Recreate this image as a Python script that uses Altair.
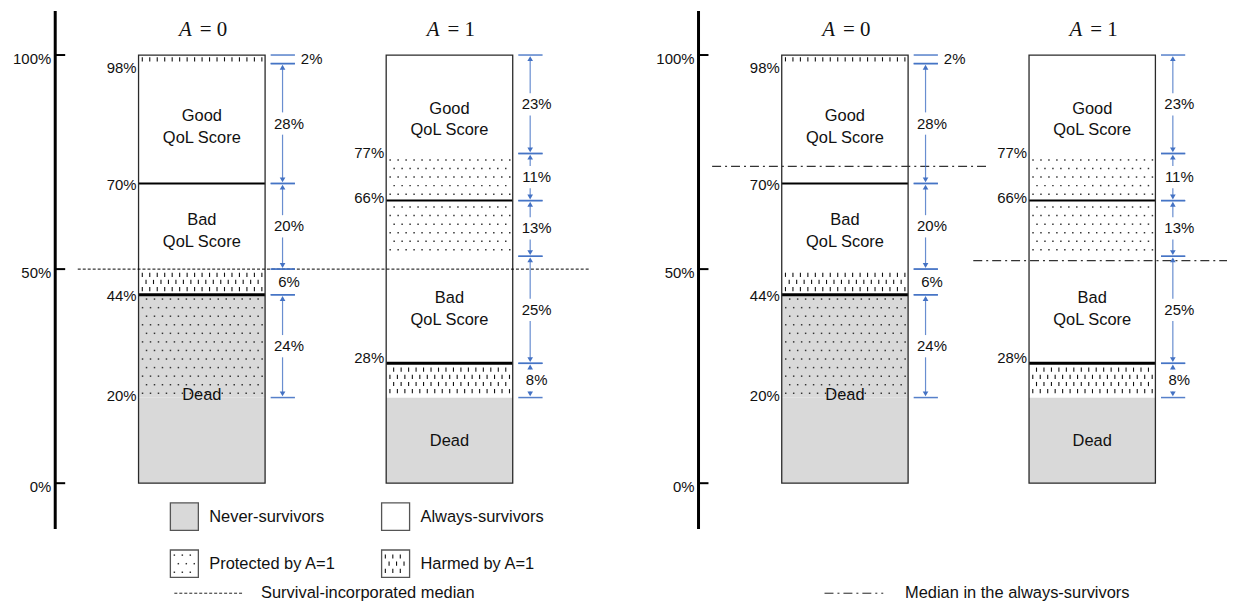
import altair as alt
import pandas as pd

# ---------------- data ----------------
ARMS = [0, 1]
ARM_TITLES = ["= 0", "= 1"]

# stacked strata of each arm (percent of population)
SEG_ARM = [0, 0, 0, 0, 0, 0, 1, 1, 1, 1, 1, 1]
SEG_LO = [0, 20, 44, 50, 70, 98, 0, 20, 28, 53, 66, 77]
SEG_HI = [20, 44, 50, 70, 98, 100, 20, 28, 53, 66, 77, 100]
SEG_BASE = ["never", "never", "always", "always", "always", "always",
            "never", "always", "always", "always", "always", "always"]
SEG_PATTERN = ["none", "dots", "dashes", "none", "none", "dashes",
               "none", "dashes", "none", "dots", "dots", "none"]

# solid separators drawn across the bars
SPLIT_ARM = [0, 0, 1, 1]
SPLIT_Y = [44, 70, 66, 28]

# cumulative percentages written left of the bars
CUM_ARM = [0, 0, 0, 0, 1, 1, 1]
CUM_Y = [98, 70, 44, 20, 77, 66, 28]

# bracketed widths right of each bar
ANN_ARM = [0, 0, 0, 0, 0, 1, 1, 1, 1, 1]
ANN_LO = [98, 70, 50, 44, 20, 77, 66, 53, 28, 20]
ANN_HI = [100, 98, 70, 50, 44, 100, 77, 66, 53, 28]

# text inside the bars
REGION_ARM = [0, 0, 0, 1, 1, 1]
REGION_TEXT = ["Good\nQoL Score", "Bad\nQoL Score", "Dead",
               "Good\nQoL Score", "Bad\nQoL Score", "Dead"]
REGION_Y = [85.8, 61.4, 20.5, 87.5, 43.2, 9.8]

SURVIVAL_MEDIAN = 50          # left panel, both arms
ALWAYS_MEDIAN = [74, 52]      # right panel, A=0 and A=1

AXIS_TICKS = [0, 50, 100]

LEGEND_LABELS = ["Never-survivors", "Always-survivors", "Protected by A=1", "Harmed by A=1"]
LEGEND_BASE = ["never", "always", "always", "always"]
LEGEND_PATTERN = ["none", "none", "dots", "dashes"]
LINE_LEGEND = ["Survival-incorporated median", "Median in the always-survivors"]

# ---------------- layout / style ----------------
FONT = "Liberation Sans"
SERIF = "Liberation Serif"
BLUE = "#4472c4"
GREY = "#d9d9d9"
UX, UY = 248.5, 4.3                 # px per arm unit, px per percentage point
XMIN, AXIS_X = -0.7827, -0.592
XMAX = {"left": 1.566, "right": 1.545}
YMIN, YMAX = -27.0, 110.7
AXIS_SPAN = (-10.7, 110.3)
HALF = 0.2555
TICK_X1, TICK_X2, ARROW_X, LABEL_X, SIDE_X = 0.278, 0.376, 0.326, 0.352, 0.40
CUM_NUDGE = {98: -1.0, 70: -0.4, 44: -0.3, 20: 0.4, 77: 0.0, 66: 0.7, 28: 1.3}
LEG_COL_X = [-0.127, 0.726]
LEG_ROW_Y = [-7.8, -18.8]
BOX_W, BOX_H = 0.113, 6.4
LEG_TEXT_DX = 0.157
LINE_ROW_Y = -25.7
LINE_LEG_X = {"left": (-0.111, 0.163, 0.239), "right": (-0.0825, 0.155, 0.243)}
DOT_DX, DOT_DY = 8.0 / UX, 8.6 / UY
DASH_DX, DASH_DY, DASH_LEN = 7.5 / UX, 7.2 / UY, 4.2 / UY

# ---------------- tables ----------------
bars = pd.DataFrame({"arm": SEG_ARM, "y1": SEG_LO, "y2": SEG_HI,
                     "base": SEG_BASE, "pattern": SEG_PATTERN})
bars["x1"] = bars["arm"] - HALF
bars["x2"] = bars["arm"] + HALF

leg_pos = [(0, 0), (1, 0), (0, 1), (1, 1)]
legend = pd.DataFrame({
    "label": LEGEND_LABELS, "base": LEGEND_BASE, "pattern": LEGEND_PATTERN,
    "x1": [LEG_COL_X[c] for c, r in leg_pos],
    "yc": [LEG_ROW_Y[r] for c, r in leg_pos],
})
legend["x2"] = legend["x1"] + BOX_W
legend["y1"] = legend["yc"] - BOX_H / 2
legend["y2"] = legend["yc"] + BOX_H / 2
legend["tx"] = legend["x1"] + LEG_TEXT_DX

outline = pd.DataFrame({"x1": [a - HALF for a in ARMS], "x2": [a + HALF for a in ARMS],
                        "y1": [min(SEG_LO)] * 2, "y2": [max(SEG_HI)] * 2})
splits = pd.DataFrame({"arm": SPLIT_ARM, "y": SPLIT_Y, "w": [3, 2, 2, 3]})
cums = pd.DataFrame({"arm": CUM_ARM, "y": CUM_Y})
cums["yp"] = cums["y"] + cums["y"].map(CUM_NUDGE)
ann = pd.DataFrame({"arm": ANN_ARM, "lo": ANN_LO, "hi": ANN_HI})
regions = pd.DataFrame({"arm": REGION_ARM, "text": REGION_TEXT, "y": REGION_Y})
titles = pd.DataFrame({"arm": ARMS, "t": ARM_TITLES, "y": [105.8, 105.8]})
ticks = pd.DataFrame({"v": AXIS_TICKS})


def texture(rects, kind, dx, dy):
    """Grid of texture positions (centred, staggered rows) inside each rectangle."""
    return (alt.Chart(rects)
            .transform_filter(f"datum.pattern == '{kind}'")
            .transform_calculate(nr=f"max(1, floor((datum.y2 - datum.y1) / {dy}))")
            .transform_calculate(r0=f"(datum.y1 + datum.y2) / 2 - (datum.nr - 1) * {dy} / 2")
            .transform_calculate(ry=f"sequence(datum.r0, datum.r0 + datum.nr * {dy} - {dy} / 2, {dy})")
            .transform_flatten(["ry"])
            .transform_calculate(ri=f"round((datum.ry - datum.r0) / {dy})")
            .transform_calculate(rx=f"sequence(datum.x1 + (datum.ri % 2 == 1 ? {dx} : {dx / 2}), datum.x2 - {dx * 0.3}, {dx})")
            .transform_flatten(["rx"]))


def make_panel(side):
    xmax = XMAX[side]
    xs = alt.Scale(domain=[XMIN, xmax], nice=False, zero=False)
    ys = alt.Scale(domain=[YMIN, YMAX], nice=False, zero=False)

    def X(f):
        return alt.X(f"{f}:Q", scale=xs, axis=None)

    def Y(f):
        return alt.Y(f"{f}:Q", scale=ys, axis=None)

    rects = bars if side == "right" else pd.concat(
        [bars, legend[["x1", "x2", "y1", "y2", "base", "pattern"]]], ignore_index=True)
    fill_scale = alt.Scale(domain=["never", "always"], range=[GREY, "white"])
    L = []
    L.append(alt.Chart(rects).mark_rect(strokeWidth=0).encode(
        x=X("x1"), x2="x2", y=Y("y1"), y2="y2",
        fill=alt.Fill("base:N", scale=fill_scale, legend=None)))

    # dotted texture
    L.append(texture(rects, "dots", DOT_DX, DOT_DY)
             .mark_square(size=2.2, color="#333333", opacity=1)
             .encode(x=X("rx"), y=Y("ry")))
    # dashed texture
    L.append(texture(rects, "dashes", DASH_DX, DASH_DY)
             .transform_calculate(ya=f"datum.ry - {DASH_LEN/2}", yb=f"datum.ry + {DASH_LEN/2}")
             .mark_rule(color="#111111", strokeWidth=1.1)
             .encode(x=X("rx"), y=Y("ya"), y2="yb"))

    # separators
    L.append(alt.Chart(splits)
             .transform_calculate(x1=f"datum.arm - {HALF}", x2=f"datum.arm + {HALF}")
             .mark_rule(color="black")
             .encode(x=X("x1"), x2="x2", y=Y("y"),
                     strokeWidth=alt.StrokeWidth("w:Q", scale=None)))
    # outlines
    L.append(alt.Chart(outline).mark_rect(fillOpacity=0, stroke="#2a2a2a", strokeWidth=1.3)
             .encode(x=X("x1"), x2="x2", y=Y("y1"), y2="y2"))
    if side == "left":
        L.append(alt.Chart(legend).mark_rect(fillOpacity=0, stroke="#555555", strokeWidth=1.3)
                 .encode(x=X("x1"), x2="x2", y=Y("y1"), y2="y2"))
        L.append(alt.Chart(legend).mark_text(font=FONT, fontSize=16.5, align="left",
                                             baseline="middle", color="#111111")
                 .encode(x=X("tx"), y=Y("yc"), text="label:N"))

    # medians
    if side == "left":
        med = pd.DataFrame({"y": [SURVIVAL_MEDIAN], "x1": [-0.501], "x2": [xmax]})
        L.append(alt.Chart(med).mark_rule(color="black", strokeWidth=1, strokeDash=[3, 2])
                 .encode(x=X("x1"), x2="x2", y=Y("y")))
    else:
        med = pd.DataFrame({"arm": ARMS, "y": ALWAYS_MEDIAN})
        L.append(alt.Chart(med)
                 .transform_calculate(x1="datum.arm - (datum.arm == 0 ? 0.537 : 0.481)",
                                      x2="datum.arm + 0.578")
                 .mark_rule(color="#333333", strokeWidth=1.2, strokeDash=[9, 4, 2, 4], clip=True)
                 .encode(x=X("x1"), x2="x2", y=Y("y")))

    # line legend
    lx1, lx2, ltx = LINE_LEG_X[side]
    ll = pd.DataFrame({"x1": [lx1], "x2": [lx2], "tx": [ltx], "y": [LINE_ROW_Y],
                       "label": [LINE_LEGEND[0 if side == "left" else 1]]})
    dash = [3, 2] if side == "left" else [9, 4, 2, 4]
    L.append(alt.Chart(ll).mark_rule(color="#222222", strokeWidth=1, strokeDash=dash)
             .encode(x=X("x1"), x2="x2", y=Y("y")))
    L.append(alt.Chart(ll).mark_text(font=FONT, fontSize=16.5, align="left", baseline="middle",
                                     color="#111111")
             .encode(x=X("tx"), y=Y("y"), text="label:N"))

    # text inside bars
    L.append(alt.Chart(regions).mark_text(font=FONT, fontSize=16.5, lineBreak="\n", lineHeight=22,
                                          align="center", baseline="middle", color="#111111")
             .encode(x=X("arm"), y=Y("y"), text="text:N"))
    # cumulative labels
    L.append(alt.Chart(cums).transform_calculate(xl=f"datum.arm - {HALF}", t="datum.y + '%'")
             .mark_text(font=FONT, fontSize=15, align="right", baseline="middle", dx=-2,
                        color="#111111")
             .encode(x=X("xl"), y=Y("yp"), text="t:N"))

    # blue brackets
    a = (alt.Chart(ann).transform_calculate(
        mid="(datum.lo + datum.hi) / 2", size="datum.hi - datum.lo",
        xa=f"datum.arm + {ARROW_X}", xt1=f"datum.arm + {TICK_X1}", xt2=f"datum.arm + {TICK_X2}",
        xl=f"datum.arm + {LABEL_X}", xs=f"datum.arm + {SIDE_X}", t="(datum.hi - datum.lo) + '%'"))
    L.append(a.transform_fold(["lo", "hi"], as_=["end", "yv"])
             .mark_rule(color=BLUE, strokeWidth=1.5, opacity=0.9)
             .encode(x=X("xt1"), x2="xt2", y=Y("yv")))
    big = a.transform_filter("datum.size >= 8")
    L.append(big.transform_calculate(ya="datum.hi - 0.8", yb="datum.mid + 2.6")
             .mark_rule(color=BLUE, strokeWidth=1.2, opacity=0.8)
             .encode(x=X("xa"), y=Y("ya"), y2="yb"))
    L.append(big.transform_calculate(ya="datum.lo + 0.8", yb="datum.mid - 2.6")
             .mark_rule(color=BLUE, strokeWidth=1.2, opacity=0.8)
             .encode(x=X("xa"), y=Y("ya"), y2="yb"))
    L.append(big.transform_calculate(yh="datum.hi - 0.85")
             .mark_point(shape="triangle-up", filled=True, size=32, color=BLUE, opacity=1)
             .encode(x=X("xa"), y=Y("yh")))
    L.append(big.transform_calculate(yh="datum.lo + 0.85")
             .mark_point(shape="triangle-down", filled=True, size=32, color=BLUE, opacity=1)
             .encode(x=X("xa"), y=Y("yh")))
    L.append(a.transform_filter("datum.size >= 4")
             .mark_text(font=FONT, fontSize=15, align="center", baseline="middle", color="#111111")
             .encode(x=X("xl"), y=Y("mid"), text="t:N"))
    L.append(a.transform_filter("datum.size < 4")
             .mark_text(font=FONT, fontSize=15, align="left", baseline="middle", color="#111111")
             .encode(x=X("xs"), y=Y("mid"), text="t:N"))

    # titles
    L.append(alt.Chart(titles).transform_calculate(a="'A'")
             .mark_text(font=SERIF, fontSize=21, fontStyle="italic", align="right",
                        baseline="middle", dx=-10, color="#111111")
             .encode(x=X("arm"), y=Y("y"), text="a:N"))
    L.append(alt.Chart(titles)
             .mark_text(font=SERIF, fontSize=21, align="left", baseline="middle", dx=-2,
                        color="#111111")
             .encode(x=X("arm"), y=Y("y"), text="t:N"))

    # y axis drawn as marks
    spine = pd.DataFrame({"x": [AXIS_X], "y1": [AXIS_SPAN[0]], "y2": [AXIS_SPAN[1]]})
    L.append(alt.Chart(spine).mark_rule(color="black", strokeWidth=3)
             .encode(x=X("x"), y=Y("y1"), y2="y2"))
    L.append(alt.Chart(ticks).transform_calculate(x1=f"{AXIS_X}", x2=f"{AXIS_X} + {10 / UX}")
             .mark_rule(color="black", strokeWidth=2)
             .encode(x=X("x1"), x2="x2", y=Y("v")))
    L.append(alt.Chart(ticks).transform_calculate(x=f"{AXIS_X}", t="datum.v + '%'")
             .mark_text(font=FONT, fontSize=15, align="right", baseline="middle", dx=-4, dy=4,
                        color="#111111")
             .encode(x=X("x"), y=Y("v"), text="t:N"))

    w = round((xmax - XMIN) * UX)
    h = round((YMAX - YMIN) * UY)
    return alt.layer(*L).properties(width=w, height=h)


chart = (alt.hconcat(make_panel("left"), make_panel("right"), spacing=61)
         .properties(padding={"left": 0, "top": 0, "right": 0, "bottom": 0})
         .configure_view(stroke=None))

chart.save("out.html", embed_options={"renderer": "svg", "actions": False})
